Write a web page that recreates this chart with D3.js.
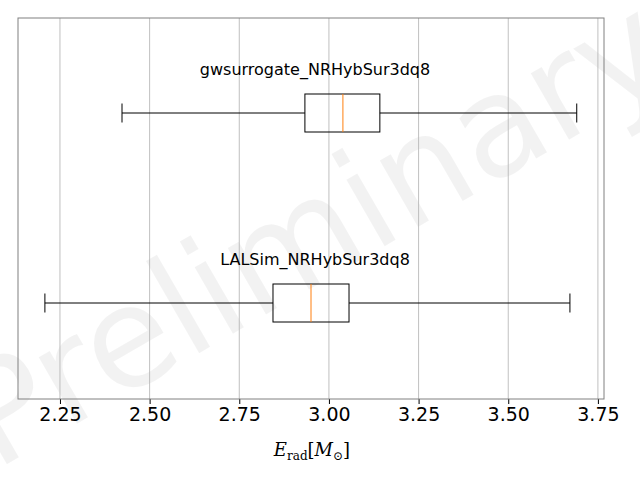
<!DOCTYPE html>
<html><head><meta charset="utf-8">
<script src="https://cdn.jsdelivr.net/npm/d3@7"></script>
<style>body{margin:0;background:#fff}svg{font-family:"DejaVu Sans",sans-serif}</style>
</head><body><div id="chart"></div>
<script>
// box stats: [whiskerLow, q1, median, q3, whiskerHigh]
const labels = ["gwsurrogate_NRHybSur3dq8", "LALSim_NRHybSur3dq8"];
const stats = [
    [2.423, 2.933, 3.039, 3.142, 3.691],
    [2.208, 2.844, 2.950, 3.056, 3.672]
];
const ticks = [2.25, 2.5, 2.75, 3.0, 3.25, 3.5, 3.75];

const w = 640, h = 480;
const margin = {top: 18, right: 36, bottom: 81, left: 18};
const innerWidth = w - margin.left - margin.right;
const innerHeight = h - margin.top - margin.bottom;

const svg = d3.select("#chart").append("svg").attr("width", w).attr("height", h);

// watermark
svg.append("text").attr("transform", "translate(318,240) rotate(-30)")
    .attr("text-anchor", "middle").attr("dominant-baseline", "middle")
    .attr("font-size", 140).attr("fill", "#000").attr("fill-opacity", 0.05)
    .text("Preliminary");

const x = d3.scaleLinear().domain([2.133, 3.767]).range([0, innerWidth]);
const y = d3.scalePoint().domain(labels).range([95, 285]);

const g = svg.append("g").attr("transform", `translate(${margin.left},${margin.top})`);

// grid
g.selectAll(".grid").data(ticks).enter().append("line")
    .attr("x1", d => x(d)).attr("x2", d => x(d))
    .attr("y1", 0).attr("y2", innerHeight)
    .attr("stroke", "#b0b0b0").attr("stroke-width", 0.8);

const xAxis = d3.axisBottom(x).tickValues(ticks).tickFormat(d3.format(".2f")).tickSize(5).tickPadding(4);
const xAxisG = g.append("g").attr("transform", `translate(0,${innerHeight})`).call(xAxis)
    .attr("font-size", 19).attr("font-family", "DejaVu Sans, sans-serif");
xAxisG.select(".domain").remove();
xAxisG.selectAll("text").attr("fill", "#000");

// frame
g.append("rect").attr("width", innerWidth).attr("height", innerHeight)
    .attr("fill", "none").attr("stroke", "#808080").attr("stroke-width", 1);

const boxH = 38;
labels.forEach((lab, i) => {
    const s = stats[i], cy = y(lab);
    g.append("line").attr("x1", x(s[0])).attr("x2", x(s[1])).attr("y1", cy).attr("y2", cy).attr("stroke", "#000");
    g.append("line").attr("x1", x(s[3])).attr("x2", x(s[4])).attr("y1", cy).attr("y2", cy).attr("stroke", "#000");
    [s[0], s[4]].forEach(v => g.append("line").attr("x1", x(v)).attr("x2", x(v))
        .attr("y1", cy - 9.5).attr("y2", cy + 9.5).attr("stroke", "#000"));
    g.append("rect").attr("x", x(s[1])).attr("y", cy - boxH / 2)
        .attr("width", x(s[3]) - x(s[1])).attr("height", boxH)
        .attr("fill", "none").attr("stroke", "#000");
    g.append("line").attr("x1", x(s[2])).attr("x2", x(s[2]))
        .attr("y1", cy - boxH / 2).attr("y2", cy + boxH / 2).attr("stroke", "#ff7f0e");
    g.append("text").attr("x", innerWidth / 2 + 4).attr("y", cy - 38)
        .attr("text-anchor", "middle").attr("font-size", 16).text(lab);
});

// x label
const xl = svg.append("text").attr("x", 312).attr("y", 456).attr("text-anchor", "middle")
    .attr("font-family", "DejaVu Serif, serif").attr("font-size", 18);
xl.append("tspan").attr("font-style", "italic").text("E");
xl.append("tspan").attr("dy", 4).attr("font-size", 12).text("rad");
xl.append("tspan").attr("dy", -4).text("[");
xl.append("tspan").attr("font-style", "italic").text("M");
xl.append("tspan").attr("dy", 4).attr("font-size", 12).text("⊙");
xl.append("tspan").attr("dy", -4).text("]");
</script></body></html>
